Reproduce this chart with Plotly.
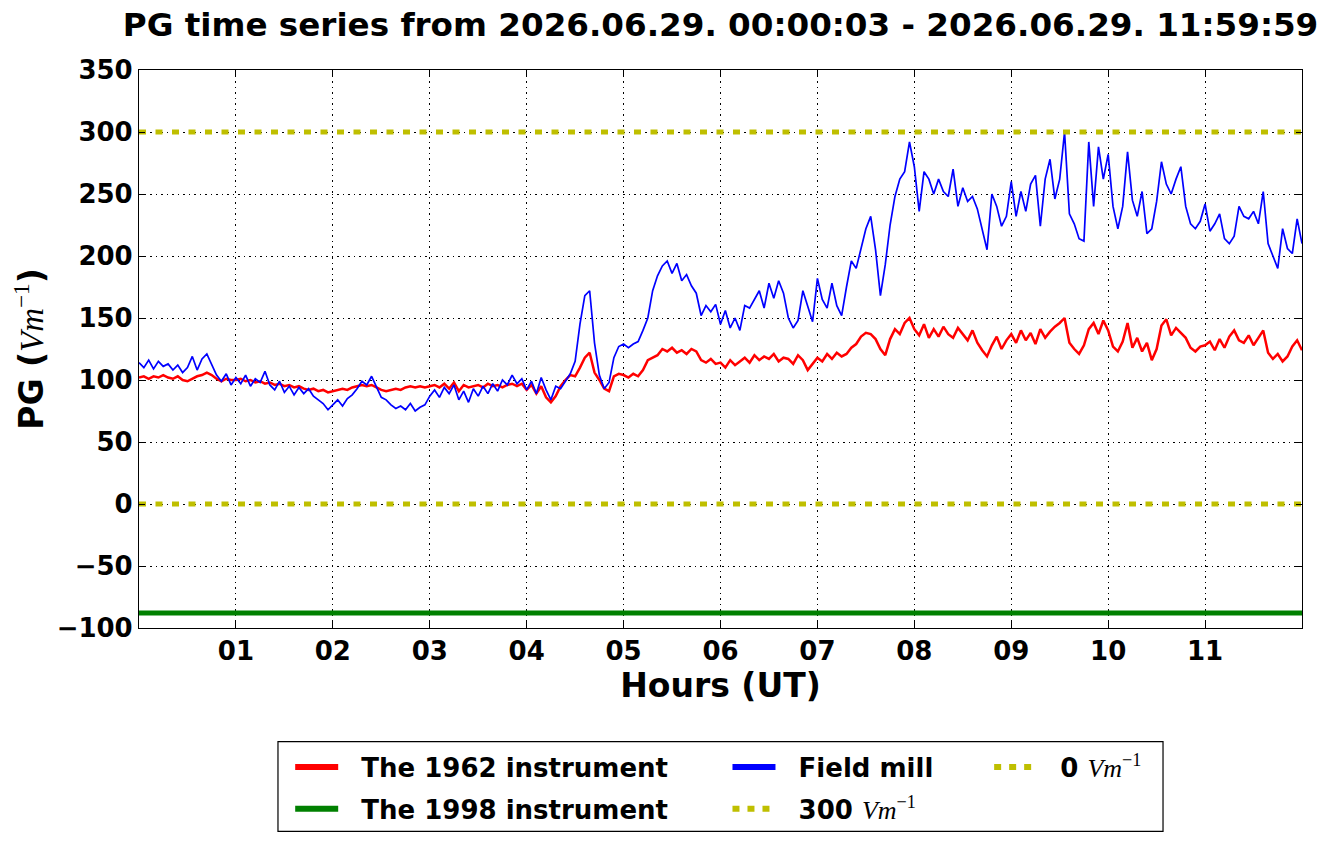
import plotly.graph_objects as go

# samples every 3 minutes, hours since 00:00 UT
step = 0.05
field_mill = [114, 110, 116, 109, 115, 111, 113, 108, 112, 106, 110, 119, 108, 117, 121, 112, 104, 99, 105, 96,
              102, 97, 104, 95, 101, 98, 107, 96, 92, 99, 90, 95, 88, 94, 89, 93, 87, 84, 81, 76,
              80, 84, 79, 85, 88, 93, 99, 96, 103, 95, 86, 84, 80, 77, 79, 76, 81, 75, 78, 80,
              87, 92, 86, 94, 89, 96, 84, 91, 82, 93, 87, 95, 89, 97, 91, 100, 96, 104, 97, 101,
              92, 99, 89, 102, 92, 84, 95, 93, 99, 105, 115, 145, 168, 172, 130, 104, 93, 98, 118, 127,
              129, 126, 129, 131, 140, 150, 172, 184, 192, 196, 186, 194, 180, 185, 176, 170, 152, 160, 155, 161,
              145, 156, 142, 150, 140, 160, 158, 165, 172, 158, 178, 166, 180, 170, 150, 142, 148, 172, 160, 147,
              182, 165, 158, 178, 160, 152, 175, 196, 190, 205, 222, 232, 205, 168, 193, 225, 248, 262, 268, 292,
              272, 236, 268, 262, 250, 262, 252, 248, 270, 240, 255, 244, 248, 238, 222, 205, 250, 240, 224, 232,
              260, 232, 252, 236, 258, 265, 224, 262, 278, 246, 262, 300, 234, 226, 214, 212, 292, 240, 288, 262,
              282, 240, 222, 240, 284, 245, 232, 252, 218, 222, 244, 276, 258, 250, 262, 272, 240, 226, 222, 228,
              242, 220, 226, 234, 214, 210, 216, 240, 232, 230, 236, 226, 252, 210, 200, 190, 222, 206, 202, 230,
              210]
inst_1962 = [102, 103, 101, 103, 102, 104, 102, 101, 103, 100, 99, 101, 103, 104, 106, 104, 101, 99, 101, 100,
             100, 101, 99, 100, 98, 99, 97, 98, 96, 97, 95, 96, 94, 95, 93, 92, 93, 91, 92, 90,
             91, 92, 93, 92, 94, 95, 96, 95, 96, 94, 92, 91, 92, 93, 92, 94, 95, 94, 95, 94,
             95, 96, 94, 97, 93, 98, 91, 96, 94, 95, 96, 94, 97, 95, 96, 94, 96, 97, 95, 97,
             92, 96, 89, 95, 86, 82, 87, 95, 100, 104, 103, 110, 118, 122, 106, 100, 93, 91, 103, 105,
             104, 102, 105, 103, 108, 116, 118, 120, 125, 123, 126, 122, 124, 121, 125, 123, 116, 114, 117, 113,
             114, 110, 116, 112, 115, 118, 114, 120, 116, 119, 117, 121, 115, 118, 117, 113, 120, 116, 108, 113,
             118, 115, 121, 117, 122, 119, 121, 126, 129, 135, 138, 137, 133, 125, 120, 133, 141, 137, 146, 150,
             141, 136, 145, 134, 141, 135, 143, 137, 134, 142, 137, 132, 140, 130, 124, 119, 128, 135, 125, 132,
             137, 130, 140, 132, 138, 129, 141, 134, 139, 143, 146, 150, 130, 125, 121, 128, 141, 146, 137, 148,
             140, 127, 123, 131, 146, 126, 134, 123, 130, 116, 125, 144, 149, 136, 142, 138, 134, 126, 123, 127,
             128, 131, 124, 133, 126, 135, 140, 132, 130, 136, 128, 134, 140, 122, 117, 121, 115, 119, 127, 132,
             124]
hours = [i * step for i in range(len(field_mill))]
inst_1998_hours = [0, 12]
inst_1998 = [-88, -88]
ref_levels = [300, 0]
tick_hours = [1, 2, 3, 4, 5, 6, 7, 8, 9, 10, 11]
tick_labels = ["01", "02", "03", "04", "05", "06", "07", "08", "09", "10", "11"]

title = "PG time series from 2026.06.29. 00:00:03 - 2026.06.29. 11:59:59"
unit = "<span style='font-family:Liberation Serif;font-weight:normal'><i>Vm</i><sup>\u22121</sup></span>"
yellow = "#bfbf00"
dots = "7px,9.5px"
pad = "\u00a0\u00a0"

fig = go.Figure()
fig.add_trace(go.Scatter(x=hours, y=inst_1962, mode="lines", line=dict(color="red", width=2.5), showlegend=False))
fig.add_trace(go.Scatter(x=inst_1998_hours, y=inst_1998, mode="lines", line=dict(color="green", width=5), showlegend=False))
fig.add_trace(go.Scatter(x=hours, y=field_mill, mode="lines", line=dict(color="blue", width=1.7), showlegend=False))
for lvl in ref_levels:
    fig.add_trace(go.Scatter(x=[0, 12], y=[lvl, lvl], mode="lines",
                             line=dict(color=yellow, width=5, dash=dots), showlegend=False))

# legend entries (3 columns like the matplotlib legend)
leg = [("The 1962 instrument", "red", "solid", "legend"),
       ("The 1998 instrument", "green", "solid", "legend"),
       ("Field mill", "blue", "solid", "legend2"),
       ("300 " + unit, yellow, "7px,8px", "legend2"),
       ("0 " + unit, yellow, "7px,8px", "legend3")]
for i, (name, col, dash, lg) in enumerate(leg):
    fig.add_trace(go.Scatter(x=[None], y=[None], mode="lines", name=pad + name, legend=lg,
                             legendgroup="g%d" % i, line=dict(color=col, width=6, dash=dash)))

legfont = dict(family="DejaVu Sans", size=26, color="black", weight="bold")
legbase = dict(y=-0.207, yanchor="top", xanchor="left", bgcolor="rgba(0,0,0,0)", traceorder="grouped",
               borderwidth=0, font=legfont, itemwidth=43, tracegroupgap=5)
# the page adds an 8px body margin, so the figure is 8px smaller than the window
fig.update_layout(
    width=1333, height=836,
    margin=dict(l=131, r=39, t=62, b=214),
    plot_bgcolor="white", paper_bgcolor="white",
    title=dict(text=title, x=0.5, xref="paper", y=1 - 17 / 836, yref="container", yanchor="middle",
               font=dict(family="DejaVu Sans", size=32.6, color="black", weight="bold")),
    legend=dict(x=0.13, **legbase),
    legend2=dict(x=0.506, **legbase),
    legend3=dict(x=0.731, **legbase),
    shapes=[dict(type="rect", xref="paper", yref="paper", x0=0.1195, x1=0.8805, y0=-0.3643, y1=-0.2036,
                 line=dict(color="black", width=1.2))],
)
axfont = dict(family="DejaVu Sans", size=26, color="black", weight="bold")
titlefont = dict(family="DejaVu Sans", size=33, color="black", weight="bold")
grid = dict(showline=True, linecolor="black", linewidth=1.2, mirror="ticks", ticks="inside", ticklen=6,
            tickcolor="black", showgrid=True, gridcolor="black", griddash="1.5px,4px", gridwidth=1,
            zeroline=False, layer="above traces", tickfont=axfont)
fig.update_xaxes(range=[0, 12], tickvals=tick_hours, ticktext=tick_labels,
                 title=dict(text="Hours (UT)", font=titlefont, standoff=6), **grid)
fig.update_yaxes(range=[-100, 350], dtick=50, tick0=0,
                 title=dict(text="PG (" + unit + ")", font=titlefont, standoff=10), **grid)
fig.write_html("out.html")
